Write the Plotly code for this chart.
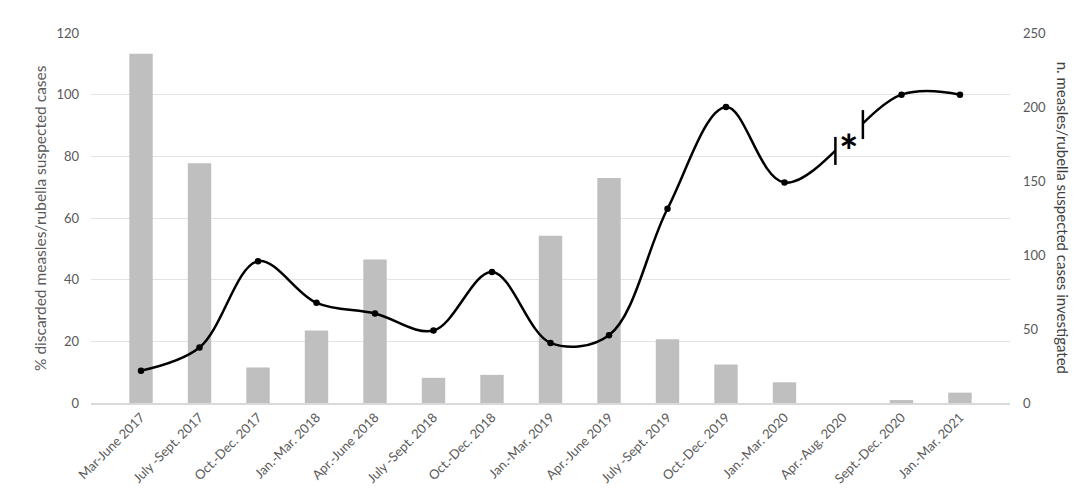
import plotly.graph_objects as go

categories = ["Mar-June 2017", "July -Sept. 2017", "Oct.-Dec. 2017", "Jan.-Mar. 2018",
              "Apr.-June 2018", "July -Sept. 2018", "Oct.-Dec. 2018", "Jan.-Mar. 2019",
              "Apr.-June 2019", "July -Sept. 2019", "Oct.-Dec. 2019", "Jan.-Mar. 2020",
              "Apr.-Aug. 2020", "Sept.-Dec. 2020", "Jan.-Mar. 2021"]
cases_investigated = [236, 162, 24, 49, 97, 17, 19, 113, 152, 43, 26, 14, 0, 2, 7]
pct_discarded = [10.5, 18, 46, 32.5, 29, 23.5, 42.5, 19.5, 22, 63, 96, 71.5, None, 100, 100]

FONT = "Lato"
TICK_COLOR = "#595959"

fig = go.Figure()
fig.add_trace(go.Bar(
    x=categories, y=cases_investigated, yaxis="y",
    marker=dict(color="#bfbfbf", line=dict(width=0)),
    showlegend=False,
))
fig.add_trace(go.Scatter(
    x=categories, y=pct_discarded, yaxis="y2", mode="lines+markers",
    line=dict(color="black", width=2.5, shape="spline", smoothing=1.0),
    marker=dict(color="black", size=6.5),
    connectgaps=True, showlegend=False,
))

# break indicator on the line (gap, two ticks and an asterisk)
fig.add_shape(type="rect", xref="x", yref="y2", x0=11.87, x1=12.34, y0=80.7, y1=99,
              fillcolor="white", line=dict(width=0), layer="above")
fig.add_shape(type="line", xref="x", yref="y2", x0=11.87, x1=11.87, y0=77.2, y1=86.3,
              line=dict(color="black", width=2.5), layer="above")
fig.add_shape(type="line", xref="x", yref="y2", x0=12.34, x1=12.34, y0=85.6, y1=95,
              line=dict(color="black", width=2.5), layer="above")
fig.add_annotation(x=12.1, y=85, xref="x", yref="y2", text="<b>*</b>", showarrow=False,
                   font=dict(size=46, color="black", family=FONT), yshift=-10)

# axis titles
fig.add_annotation(x=-0.0555, y=0.5, xref="paper", yref="paper",
                   text="% discarded measles/rubella suspected cases",
                   textangle=-90, showarrow=False, xanchor="center", yanchor="middle",
                   font=dict(size=15.5, color=TICK_COLOR, family=FONT))
fig.add_annotation(x=1.058, y=0.5, xref="paper", yref="paper",
                   text="n. measles/rubella suspected cases investigated",
                   textangle=90, showarrow=False, xanchor="center", yanchor="middle",
                   font=dict(size=15, color="#404040", family=FONT))

fig.update_layout(
    width=1080, height=500,
    margin=dict(l=83, r=78, t=25, b=105),
    plot_bgcolor="white", paper_bgcolor="white",
    bargap=0.6,
    font=dict(family=FONT, size=13, color=TICK_COLOR),
    xaxis=dict(type="category", tickangle=-45, showgrid=False,
               showline=True, linecolor="#d9d9d9", linewidth=1.5,
               ticks="", tickfont=dict(size=13, color=TICK_COLOR)),
    yaxis=dict(side="right", range=[0, 250], dtick=50, showgrid=False,
               zeroline=False, ticks="", ticklabelstandoff=12,
               tickfont=dict(size=13, color=TICK_COLOR)),
    yaxis2=dict(overlaying="y", side="left", range=[0, 120], dtick=20,
                showgrid=True, gridcolor="#e3e3e3", gridwidth=1,
                zeroline=False, ticks="", ticklabelstandoff=11,
                tickfont=dict(size=13, color=TICK_COLOR)),
)

fig.write_html("out.html")
